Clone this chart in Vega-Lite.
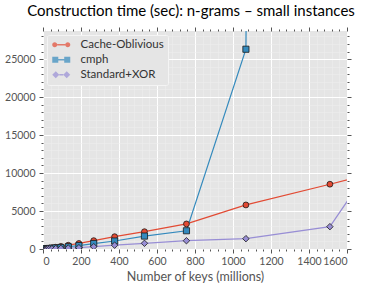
{
  "$schema": "https://vega.github.io/schema/vega-lite/v6.json",
  "width": 304,
  "height": 218,
  "autosize": {"type": "none"},
  "padding": {"left": 43, "top": 31, "right": 19, "bottom": 42},
  "background": "white",
  "config": {
    "view": {"fill": "#E5E5E5", "stroke": null},
    "font": "Lato"
  },
  "title": {
    "text": "Construction time (sec): n-grams – small instances",
    "font": "Lato",
    "fontSize": 15,
    "fontWeight": "normal",
    "color": "black",
    "anchor": "middle",
    "offset": 8,
    "dx": -4
  },
  "data": {
    "values": [
      {"series": "Cache-Oblivious", "keys": 12, "time": 36},
      {"series": "Cache-Oblivious", "keys": 17, "time": 52},
      {"series": "Cache-Oblivious", "keys": 24, "time": 75},
      {"series": "Cache-Oblivious", "keys": 33, "time": 110},
      {"series": "Cache-Oblivious", "keys": 47, "time": 160},
      {"series": "Cache-Oblivious", "keys": 67, "time": 235},
      {"series": "Cache-Oblivious", "keys": 94, "time": 340},
      {"series": "Cache-Oblivious", "keys": 133, "time": 500},
      {"series": "Cache-Oblivious", "keys": 189, "time": 730},
      {"series": "Cache-Oblivious", "keys": 267, "time": 1100},
      {"series": "Cache-Oblivious", "keys": 377, "time": 1620},
      {"series": "Cache-Oblivious", "keys": 534, "time": 2280},
      {"series": "Cache-Oblivious", "keys": 755, "time": 3300},
      {"series": "Cache-Oblivious", "keys": 1068, "time": 5800},
      {"series": "Cache-Oblivious", "keys": 1510, "time": 8530},
      {"series": "Cache-Oblivious", "keys": 2136, "time": 12400},
      {"series": "cmph", "keys": 12, "time": 25},
      {"series": "cmph", "keys": 17, "time": 35},
      {"series": "cmph", "keys": 24, "time": 50},
      {"series": "cmph", "keys": 33, "time": 70},
      {"series": "cmph", "keys": 47, "time": 100},
      {"series": "cmph", "keys": 67, "time": 140},
      {"series": "cmph", "keys": 94, "time": 200},
      {"series": "cmph", "keys": 133, "time": 300},
      {"series": "cmph", "keys": 189, "time": 450},
      {"series": "cmph", "keys": 267, "time": 720},
      {"series": "cmph", "keys": 377, "time": 1050},
      {"series": "cmph", "keys": 534, "time": 1700},
      {"series": "cmph", "keys": 755, "time": 2400},
      {"series": "cmph", "keys": 1068, "time": 26300},
      {"series": "cmph", "keys": 1510, "time": 1500000},
      {"series": "Standard+XOR", "keys": 12, "time": 10},
      {"series": "Standard+XOR", "keys": 17, "time": 14},
      {"series": "Standard+XOR", "keys": 24, "time": 20},
      {"series": "Standard+XOR", "keys": 33, "time": 28},
      {"series": "Standard+XOR", "keys": 47, "time": 40},
      {"series": "Standard+XOR", "keys": 67, "time": 60},
      {"series": "Standard+XOR", "keys": 94, "time": 85},
      {"series": "Standard+XOR", "keys": 133, "time": 120},
      {"series": "Standard+XOR", "keys": 189, "time": 170},
      {"series": "Standard+XOR", "keys": 267, "time": 300},
      {"series": "Standard+XOR", "keys": 377, "time": 500},
      {"series": "Standard+XOR", "keys": 534, "time": 750},
      {"series": "Standard+XOR", "keys": 755, "time": 1090},
      {"series": "Standard+XOR", "keys": 1068, "time": 1360},
      {"series": "Standard+XOR", "keys": 1510, "time": 2940},
      {"series": "Standard+XOR", "keys": 2136, "time": 25900}
    ]
  },
  "resolve": {
    "scale": {"color": "independent", "shape": "independent"},
    "axis": {"x": "independent", "y": "independent"}
  },
  "layer": [
    {
      "mark": {"type": "line", "clip": true, "strokeWidth": 1.2},
      "encoding": {
        "x": {
          "field": "keys", "type": "quantitative",
          "scale": {"domain": [0, 1600], "nice": false, "zero": false},
          "axis": {
            "orient": "bottom",
            "values": [0, 200, 400, 600, 800, 1000, 1200, 1400, 1600],
            "format": "d",
            "grid": true, "gridColor": "white", "gridWidth": 1,
            "domain": false,
            "tickColor": "#555555", "tickSize": 4, "tickWidth": 1,
            "labelFont": "Lato", "labelFontSize": 10.5, "labelColor": "#555555", "labelPadding": 3,
            "title": "Number of keys (millions)",
            "titleFont": "Lato", "titleFontSize": 12.5, "titleFontWeight": "normal", "titleColor": "#555555", "titlePadding": 4
          }
        },
        "y": {
          "field": "time", "type": "quantitative",
          "scale": {"domain": [0, 28700], "nice": false, "zero": false},
          "axis": {
            "orient": "left",
            "values": [0, 5000, 10000, 15000, 20000, 25000],
            "format": "d",
            "grid": true, "gridColor": "white", "gridWidth": 1,
            "domain": false,
            "tickColor": "#555555", "tickSize": 4, "tickWidth": 1,
            "labelFont": "Lato", "labelFontSize": 10.5, "labelColor": "#555555", "labelPadding": 4,
            "title": null
          }
        },
        "color": {
          "field": "series", "type": "nominal",
          "scale": {"domain": ["Cache-Oblivious", "cmph", "Standard+XOR"], "range": ["#E24A33", "#348ABD", "#988ED5"]},
          "legend": null
        },
        "detail": {"field": "series"}
      }
    },
    {
      "mark": {"type": "point", "filled": true, "clip": true, "opacity": 1, "stroke": "#1a1a1a", "strokeWidth": 0.8},
      "encoding": {
        "x": {
          "field": "keys", "type": "quantitative",
          "axis": {
            "orient": "bottom",
            "values": [40, 80, 120, 160, 240, 280, 320, 360, 440, 480, 520, 560, 640, 680, 720, 760, 840, 880, 920, 960, 1040, 1080, 1120, 1160, 1240, 1280, 1320, 1360, 1440, 1480, 1520, 1560],
            "grid": true, "gridColor": "#EEEEEE", "gridWidth": 0.5,
            "domain": false, "labels": false,
            "tickColor": "#555555", "tickSize": 2, "tickWidth": 1,
            "title": null
          }
        },
        "y": {
          "field": "time", "type": "quantitative",
          "axis": {
            "orient": "left",
            "values": [1000, 2000, 3000, 4000, 6000, 7000, 8000, 9000, 11000, 12000, 13000, 14000, 16000, 17000, 18000, 19000, 21000, 22000, 23000, 24000, 26000, 27000, 28000],
            "grid": true, "gridColor": "#EEEEEE", "gridWidth": 0.5,
            "domain": false, "labels": false,
            "tickColor": "#555555", "tickSize": 2, "tickWidth": 1,
            "title": null
          }
        },
        "color": {
          "field": "series", "type": "nominal",
          "scale": {"domain": ["Cache-Oblivious", "cmph", "Standard+XOR"], "range": ["#E24A33", "#348ABD", "#988ED5"]},
          "legend": null
        },
        "shape": {
          "field": "series", "type": "nominal",
          "scale": {"domain": ["Cache-Oblivious", "cmph", "Standard+XOR"], "range": ["circle", "square", "diamond"]},
          "legend": null
        },
        "size": {
          "field": "series", "type": "nominal",
          "scale": {"domain": ["Cache-Oblivious", "cmph", "Standard+XOR"], "range": [34, 42, 60]},
          "legend": null
        }
      }
    },
    {
      "transform": [{"filter": "datum.keys > 1600"}],
      "mark": {"type": "point", "filled": true, "clip": true, "size": 81, "strokeWidth": 0},
      "encoding": {
        "x": {
          "field": "keys", "type": "quantitative",
          "axis": {
            "orient": "top",
            "values": [0, 200, 400, 600, 800, 1000, 1200, 1400, 1600],
            "grid": false, "domain": false, "labels": false,
            "tickColor": "#555555", "tickSize": 4, "tickWidth": 1,
            "title": null
          }
        },
        "y": {
          "field": "time", "type": "quantitative",
          "axis": {
            "orient": "right",
            "values": [0, 5000, 10000, 15000, 20000, 25000],
            "grid": false, "domain": false, "labels": false,
            "tickColor": "#555555", "tickSize": 4, "tickWidth": 1,
            "title": null
          }
        },
        "color": {
          "field": "series", "type": "nominal",
          "scale": {"domain": ["Cache-Oblivious", "cmph", "Standard+XOR"], "range": ["#E24A33", "#348ABD", "#988ED5"]},
          "legend": {
            "title": null,
            "orient": "top-left",
            "offset": 4,
            "padding": 4,
            "fillColor": "#E5E5E5",
            "strokeColor": "#F4F4F4",
            "cornerRadius": 2,
            "symbolSize": 81,
            "symbolStrokeWidth": 0,
            "labelFont": "Lato",
            "labelFontSize": 11.5,
            "labelColor": "#333333",
            "labelOffset": 18,
            "rowPadding": 2
          }
        },
        "shape": {
          "field": "series", "type": "nominal",
          "scale": {
            "domain": ["Cache-Oblivious", "cmph", "Standard+XOR"],
            "range": [
              "M-1.01,0A0.56,0.56 0 1,0 0.11,0A0.56,0.56 0 1,0 -1.01,0ZM0.11,-0.16L1.89,-0.16L1.89,0.16L0.11,0.16ZM1.89,0A0.56,0.56 0 1,0 3.01,0A0.56,0.56 0 1,0 1.89,0Z",
              "M-1,-0.67L0.34,-0.67L0.34,0.67L-1,0.67ZM0.34,-0.16L1.66,-0.16L1.66,0.16L0.34,0.16ZM1.66,-0.67L3,-0.67L3,0.67L1.66,0.67Z",
              "M-1,0L-0.22,-0.78L0.56,0L-0.22,0.78ZM0.56,-0.16L1.44,-0.16L1.44,0.16L0.56,0.16ZM1.44,0L2.22,-0.78L3,0L2.22,0.78Z"
            ]
          },
          "legend": {
            "title": null,
            "orient": "top-left",
            "offset": 4,
            "padding": 4,
            "fillColor": "#E5E5E5",
            "strokeColor": "#F4F4F4",
            "cornerRadius": 2,
            "symbolSize": 81,
            "symbolStrokeWidth": 0,
            "labelFont": "Lato",
            "labelFontSize": 11.5,
            "labelColor": "#333333",
            "labelOffset": 18,
            "rowPadding": 2
          }
        }
      }
    },
    {
      "transform": [{"filter": "datum.keys > 1600"}],
      "mark": {"type": "point", "clip": true, "opacity": 0},
      "encoding": {
        "x": {
          "field": "keys", "type": "quantitative",
          "axis": {
            "orient": "top",
            "values": [40, 80, 120, 160, 240, 280, 320, 360, 440, 480, 520, 560, 640, 680, 720, 760, 840, 880, 920, 960, 1040, 1080, 1120, 1160, 1240, 1280, 1320, 1360, 1440, 1480, 1520, 1560],
            "grid": false, "domain": false, "labels": false,
            "tickColor": "#555555", "tickSize": 2, "tickWidth": 1,
            "title": null
          }
        },
        "y": {
          "field": "time", "type": "quantitative",
          "axis": {
            "orient": "right",
            "values": [1000, 2000, 3000, 4000, 6000, 7000, 8000, 9000, 11000, 12000, 13000, 14000, 16000, 17000, 18000, 19000, 21000, 22000, 23000, 24000, 26000, 27000, 28000],
            "grid": false, "domain": false, "labels": false,
            "tickColor": "#555555", "tickSize": 2, "tickWidth": 1,
            "title": null
          }
        }
      }
    }
  ]
}
